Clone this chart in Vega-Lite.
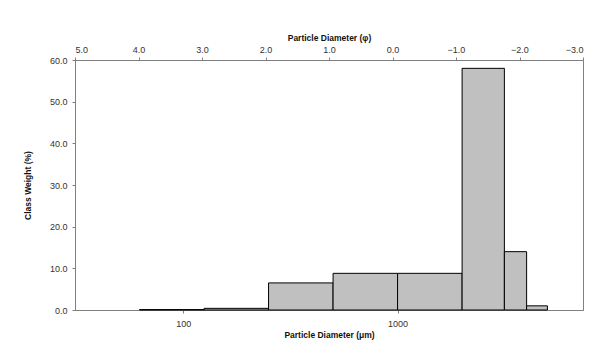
{
  "$schema": "https://vega.github.io/schema/vega-lite/v6.json",
  "width": 508,
  "height": 250,
  "autosize": "none",
  "padding": {"left": 75, "top": 60, "right": 33, "bottom": 37},
  "background": "white",
  "config": {
    "view": {"stroke": "#808080", "strokeWidth": 1},
    "font": "Liberation Sans",
    "axis": {
      "grid": false,
      "domainColor": "#808080",
      "tickColor": "#808080",
      "labelColor": "#333333",
      "titleColor": "#111111",
      "labelFont": "Liberation Sans",
      "titleFont": "Liberation Sans",
      "labelFontSize": 9,
      "titleFontSize": 8.5,
      "titleFontWeight": "bold",
      "tickSize": 3
    }
  },
  "layer": [
    {
      "data": {
        "values": [
          {"lo": 62.5, "hi": 125, "weight": 0.1},
          {"lo": 125, "hi": 250, "weight": 0.4},
          {"lo": 250, "hi": 500, "weight": 6.5},
          {"lo": 500, "hi": 1000, "weight": 8.8},
          {"lo": 1000, "hi": 2000, "weight": 8.8},
          {"lo": 2000, "hi": 3150, "weight": 58.0},
          {"lo": 3150, "hi": 4000, "weight": 14.0},
          {"lo": 4000, "hi": 5000, "weight": 1.0}
        ]
      },
      "mark": {"type": "rect", "fill": "#c0c0c0", "stroke": "#000000", "strokeWidth": 1},
      "encoding": {
        "x": {
          "field": "lo",
          "type": "quantitative",
          "scale": {"type": "log", "domain": [31.25, 7330], "nice": false},
          "axis": {
            "values": [100, 1000],
            "format": "d",
            "title": "Particle Diameter (μm)",
            "labelPadding": 6,
            "titlePadding": 2
          }
        },
        "x2": {"field": "hi"},
        "y": {
          "field": "weight",
          "type": "quantitative",
          "scale": {"domain": [0, 60], "nice": false},
          "axis": {
            "values": [0, 10, 20, 30, 40, 50, 60],
            "format": ".1f",
            "title": "Class Weight (%)",
            "labelPadding": 5,
            "titlePadding": 17
          }
        },
        "y2": {"datum": 0}
      }
    },
    {
      "data": {"values": [{"phi": 5}, {"phi": -3}]},
      "mark": {"type": "point", "opacity": 0},
      "encoding": {
        "x": {
          "field": "phi",
          "type": "quantitative",
          "scale": {"domain": [-3, 5], "reverse": true, "nice": false},
          "axis": {
            "orient": "top",
            "values": [5, 4, 3, 2, 1, 0, -1, -2, -3],
            "format": ".1f",
            "title": "Particle Diameter (φ)",
            "labelPadding": 3,
            "titlePadding": 3
          }
        }
      }
    }
  ],
  "resolve": {"scale": {"x": "independent"}, "axis": {"x": "independent"}}
}
